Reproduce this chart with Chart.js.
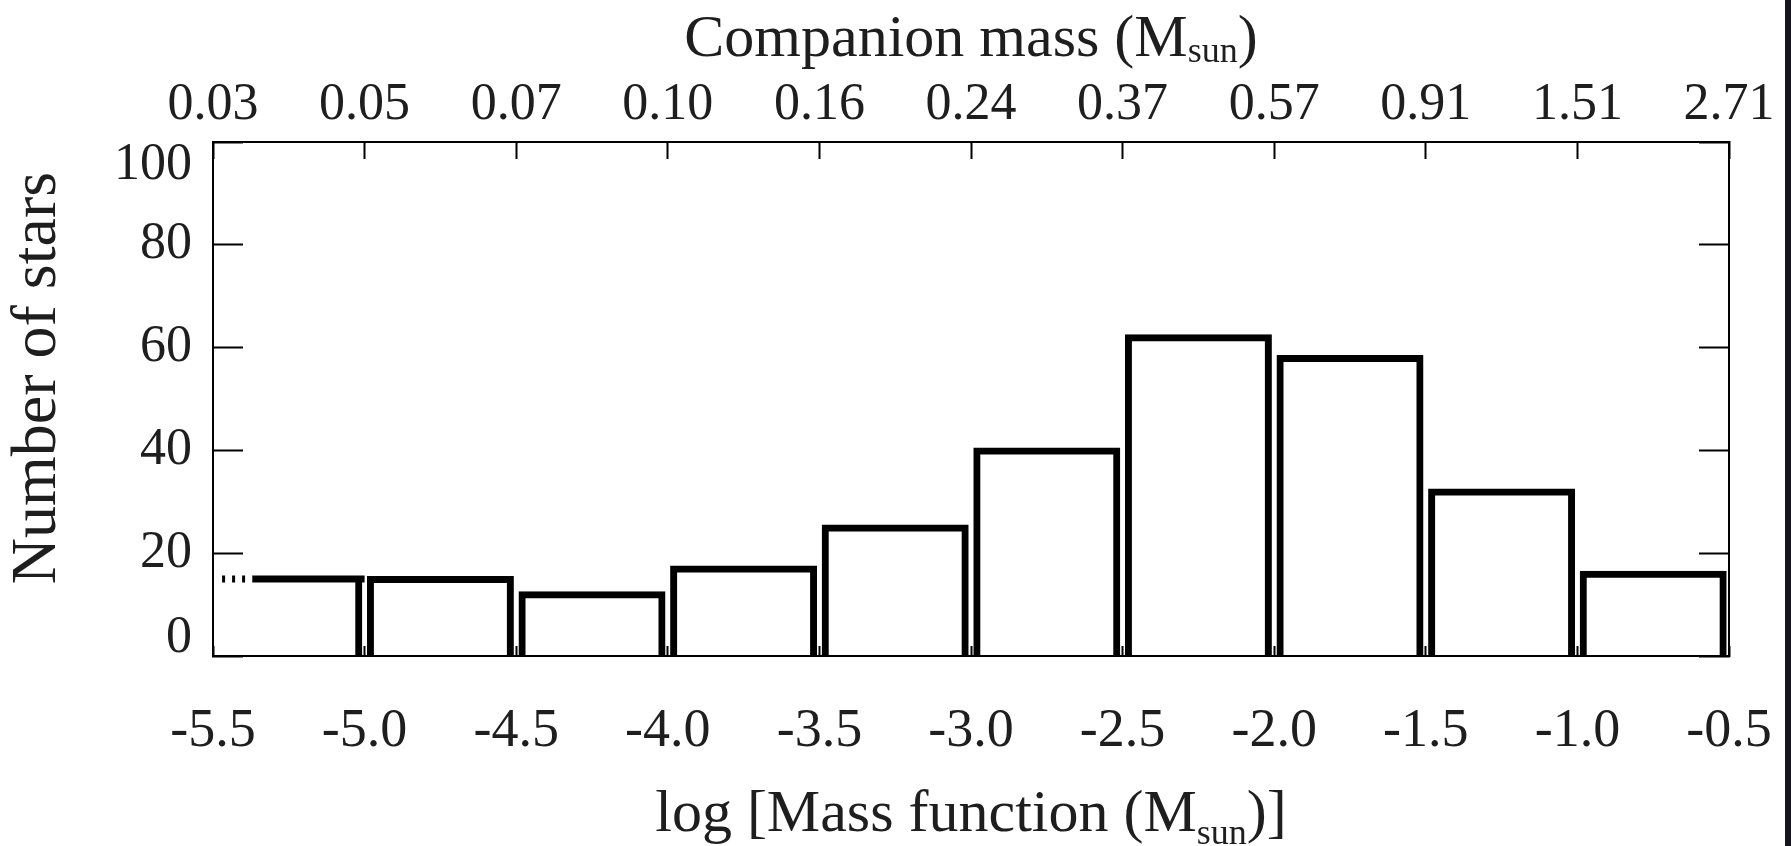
<!DOCTYPE html>
<html>
<head>
<meta charset="utf-8">
<title>Mass function histogram</title>
<script src="https://cdn.jsdelivr.net/npm/chart.js@4.4.1/dist/chart.umd.min.js"></script>
<style>
  html, body { margin: 0; padding: 0; background: #16141c; }
  #wrap { width: 1785px; height: 846px; background: #fff; }
</style>
</head>
<body>
<div id="wrap"><canvas id="hist" width="1785" height="846"></canvas></div>
<script>
// histogram bins of log(mass function), 0.5 dex wide
const binStarts = [-5.5, -5.0, -4.5, -4.0, -3.5, -3.0, -2.5, -2.0, -1.5, -1.0];
const binWidth = 0.5;
const starCounts = [15, 15, 12, 17, 25, 40, 62, 58, 32, 16];

// first bin is open on the left: dotted lead-in, then solid
const firstBinDottedFrom = -5.47;
const firstBinSolidFrom = -5.37;

const massFnTicks = ['-5.5', '-5.0', '-4.5', '-4.0', '-3.5', '-3.0', '-2.5', '-2.0', '-1.5', '-1.0', '-0.5'];
const companionMassTicks = ['0.03', '0.05', '0.07', '0.10', '0.16', '0.24', '0.37', '0.57', '0.91', '1.51', '2.71'];
const countTicks = ['0', '20', '40', '60', '80', '100'];

const SERIF = '"Liberation Serif", "Times New Roman", serif';
const INK = '#000';
const TEXT = '#1e1e1e';

// fix the size of an axis box so the plot frame lands where the original does
function fixSize(prop, px) {
  return function (scale) {
    scale[prop] = px;
    scale.paddingLeft = scale.paddingRight = scale.paddingTop = scale.paddingBottom = 0;
  };
}

function frameGrid(tickLength) {
  return {
    drawOnChartArea: false,
    drawTicks: true,
    tickLength: -tickLength,   // negative = ticks point into the plot
    tickColor: INK,
    tickWidth: 2,
    color: INK
  };
}

const frameBorder = { display: true, color: INK, width: 2 };

function drawWithSub(ctx, head, sub, tail, cx, baseline, drop) {
  const bigFont = '60px ' + SERIF;
  const smallFont = '36px ' + SERIF;
  ctx.font = bigFont;
  const w1 = ctx.measureText(head).width;
  const w3 = ctx.measureText(tail).width;
  ctx.font = smallFont;
  const w2 = ctx.measureText(sub).width;
  let x = cx - (w1 + w2 + w3) / 2;
  ctx.textAlign = 'left';
  ctx.textBaseline = 'alphabetic';
  ctx.font = bigFont;
  ctx.fillText(head, x, baseline);
  x += w1;
  ctx.font = smallFont;
  ctx.fillText(sub, x, baseline + drop);
  x += w2;
  ctx.font = bigFont;
  ctx.fillText(tail, x, baseline);
}

const axisTitles = {
  id: 'axisTitles',
  afterDraw(chart) {
    const { ctx, chartArea: a } = chart;
    const cx = (a.left + a.right) / 2;
    ctx.save();
    ctx.fillStyle = TEXT;
    drawWithSub(ctx, 'Companion mass (M', 'sun', ')', cx, a.top - 86, 6);
    drawWithSub(ctx, 'log [Mass function (M', 'sun', ')]', cx, a.bottom + 175, 13);
    ctx.translate(a.left - 158, (a.top + a.bottom) / 2 - 21);
    ctx.rotate(-Math.PI / 2);
    ctx.font = '64px ' + SERIF;
    ctx.textAlign = 'center';
    ctx.textBaseline = 'alphabetic';
    ctx.fillText('Number of stars', 0, 0);
    ctx.restore();
  }
};

const barData = binStarts.map((s, i) => ({ x: s + binWidth / 2, y: starCounts[i] }));
const firstBinTop = [
  { x: firstBinDottedFrom, y: starCounts[0] },
  { x: firstBinSolidFrom, y: starCounts[0] },
  { x: binStarts[1], y: starCounts[0] }
];

new Chart(document.getElementById('hist'), {
  type: 'bar',
  data: {
    datasets: [
      {
        type: 'line',
        data: firstBinTop,
        borderColor: INK,
        borderWidth: 7,
        borderCapStyle: 'butt',
        pointRadius: 0,
        tension: 0,
        segment: {
          borderDash: c => (c.p0DataIndex === 0 ? [3, 7] : undefined)
        },
        order: 0
      },
      {
        data: barData,
        backgroundColor: 'rgba(0,0,0,0)',
        borderColor: INK,
        // 1px border grown 3px each way -> 7px outline centred on the bar edge
        borderWidth: c => (c.dataIndex === 0
          ? { top: 0, left: 0, right: 1, bottom: 0 }
          : { top: 1, left: 1, right: 1, bottom: 0 }),
        inflateAmount: 3,
        borderSkipped: 'bottom',
        barPercentage: 0.93,
        categoryPercentage: 1,
        order: 1
      }
    ]
  },
  options: {
    responsive: false,
    animation: false,
    events: [],
    layout: { padding: 0 },
    plugins: { legend: { display: false }, tooltip: { enabled: false } },
    scales: {
      x: {
        type: 'linear',
        position: 'bottom',
        min: binStarts[0],
        max: binStarts[binStarts.length - 1] + binWidth,
        offset: false,
        grid: Object.assign(frameGrid(10), { offset: false }),
        border: frameBorder,
        ticks: {
          stepSize: binWidth,
          autoSkip: false,
          maxRotation: 0,
          padding: 53,
          color: TEXT,
          font: { family: SERIF, size: 54 },
          callback: (v, i) => massFnTicks[i]
        },
        afterFit: fixSize('height', 190)
      },
      x2: {
        type: 'linear',
        position: 'top',
        min: binStarts[0],
        max: binStarts[binStarts.length - 1] + binWidth,
        offset: false,
        grid: Object.assign(frameGrid(17), { offset: false }),
        border: frameBorder,
        ticks: {
          stepSize: binWidth,
          autoSkip: false,
          maxRotation: 0,
          padding: 22,
          color: TEXT,
          font: { family: SERIF, size: 52 },
          callback: (v, i) => companionMassTicks[i]
        },
        afterFit: fixSize('height', 142)
      },
      y: {
        position: 'left',
        min: 0,
        max: 100,
        grid: frameGrid(30),
        border: frameBorder,
        ticks: {
          stepSize: 20,
          padding: 51,
          color: TEXT,
          // end labels are nudged inside the frame, as in the original
          font: c => ({
            family: SERIF,
            size: 52,
            lineHeight: c.index === 0 ? '36px' : c.index === countTicks.length - 1 ? '46px' : 1.2
          }),
          callback: (v, i) => (i === 0 ? [countTicks[i], '']
            : i === countTicks.length - 1 ? ['', countTicks[i]]
            : countTicks[i])
        },
        afterFit: fixSize('width', 213)
      },
      y2: {
        position: 'right',
        min: 0,
        max: 100,
        grid: frameGrid(30),
        border: frameBorder,
        ticks: { stepSize: 20, callback: () => '' },
        afterFit: fixSize('width', 56)
      }
    }
  },
  plugins: [axisTitles]
});
</script>
</body>
</html>
